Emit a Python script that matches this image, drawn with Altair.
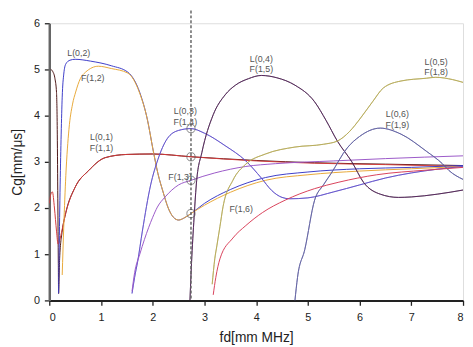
import altair as alt
import pandas as pd

# ---------------- data ----------------
L01_fd = [0.03, 0.07, 0.11, 0.14, 0.155, 0.165, 0.175, 0.18, 0.2, 0.25, 0.32, 0.5, 0.76, 1.08, 1.5, 2.0, 2.74, 4.0, 5.13, 6.5, 8.0]
L01_cg = [5.0, 4.95, 4.8, 4.5, 3.6, 2.2, 0.8, 0.15, 0.9, 1.5, 1.9, 2.45, 2.81, 3.09, 3.16, 3.17, 3.11, 3.03, 2.98, 2.95, 2.92]

F11_fd = [0.0, 0.03, 0.06, 0.1, 0.14, 0.17, 0.2, 0.25, 0.32, 0.5, 0.76, 1.08, 1.5, 2.0, 2.74, 4.0, 5.13, 6.5, 8.0]
F11_cg = [2.1, 2.3, 2.35, 2.0, 1.5, 1.22, 1.3, 1.54, 1.9, 2.45, 2.81, 3.09, 3.16, 3.17, 3.11, 3.02, 2.97, 2.94, 2.9]

L02_fd = [0.18, 0.19, 0.21, 0.23, 0.25, 0.28, 0.32, 0.4, 0.5, 0.8, 1.2, 1.52, 1.75, 1.9, 2.0, 2.1, 2.2, 2.3, 2.4, 2.5, 2.6, 2.74, 3.0, 3.5, 4.18, 5.0, 6.0, 7.0, 8.0]
L02_cg = [0.15, 1.0, 2.5, 3.6, 4.4, 4.9, 5.12, 5.2, 5.22, 5.18, 5.08, 4.94, 4.5, 3.9, 3.3, 2.75, 2.35, 2.0, 1.8, 1.74, 1.78, 1.88, 2.1, 2.4, 2.66, 2.78, 2.85, 2.88, 2.92]

F12_fd = [0.25, 0.28, 0.32, 0.38, 0.45, 0.51, 0.6, 0.7, 0.95, 1.2, 1.52, 1.75, 1.9, 2.0, 2.1, 2.2, 2.3, 2.4, 2.5, 2.6, 2.74, 3.0, 3.5, 4.18, 5.0, 6.0, 7.0, 8.0]
F12_cg = [0.55, 1.6, 2.7, 3.7, 4.25, 4.51, 4.8, 4.94, 5.07, 5.02, 4.92, 4.48, 3.9, 3.3, 2.75, 2.35, 2.0, 1.8, 1.74, 1.78, 1.88, 2.06, 2.34, 2.6, 2.72, 2.8, 2.85, 2.9]

F13_fd = [1.6, 1.65, 1.75, 1.84, 2.0, 2.09, 2.24, 2.5, 2.74, 3.2, 3.8, 4.37, 5.5, 6.5, 8.0]
F13_cg = [0.2, 0.6, 1.0, 1.32, 1.8, 2.02, 2.24, 2.5, 2.6, 2.76, 2.9, 2.96, 3.02, 3.07, 3.13]

L03_fd = [1.6, 1.65, 1.71, 1.8, 1.96, 2.1, 2.28, 2.5, 2.74, 3.0, 3.4, 3.8, 4.1, 4.3, 4.5, 4.65, 5.0, 5.5, 6.0, 6.5, 7.0, 7.5, 8.0]
L03_cg = [0.15, 0.5, 0.85, 1.5, 2.5, 3.05, 3.5, 3.68, 3.72, 3.62, 3.35, 3.02, 2.65, 2.38, 2.23, 2.2, 2.22, 2.35, 2.5, 2.65, 2.76, 2.84, 2.9]

L04_fd = [2.72, 2.75, 2.8, 2.85, 2.95, 3.17, 3.4, 3.6, 3.85, 4.1, 4.4, 4.75, 5.13, 5.35, 5.57, 5.85, 6.08, 6.4, 6.75, 7.0, 7.5, 8.0]
L04_cg = [0.0, 0.8, 1.8, 2.6, 3.2, 4.02, 4.45, 4.66, 4.8, 4.87, 4.82, 4.66, 4.3, 3.9, 3.45, 3.0, 2.55, 2.3, 2.23, 2.24, 2.3, 2.39]

L05_fd = [3.15, 3.2, 3.24, 3.3, 3.36, 3.55, 3.8, 4.18, 4.75, 5.3, 5.57, 5.8, 6.02, 6.25, 6.46, 6.8, 7.29, 7.47, 7.8, 8.0]
L05_cg = [0.35, 0.9, 1.18, 1.6, 2.03, 2.6, 2.95, 3.17, 3.32, 3.38, 3.45, 3.65, 3.95, 4.3, 4.6, 4.75, 4.81, 4.83, 4.78, 4.72]

L06_fd = [4.75, 4.8, 4.94, 5.13, 5.3, 5.45, 5.76, 6.0, 6.4, 6.8, 7.29, 7.6, 7.73, 8.0]
L06_cg = [0.0, 0.5, 1.1, 2.17, 2.5, 2.75, 3.3, 3.55, 3.73, 3.6, 3.23, 2.96, 2.81, 2.62]

F16_fd = [3.17, 3.22, 3.3, 3.55, 3.8, 4.12, 4.56, 5.13, 5.6, 6.33, 7.28, 8.0]
F16_cg = [0.12, 0.5, 0.9, 1.35, 1.62, 1.9, 2.17, 2.42, 2.56, 2.72, 2.82, 2.88]

# series: name, fd list, cg list, colour
series = [
    ("L(0,1)", L01_fd, L01_cg, "#4a1414"),
    ("F(1,1)", F11_fd, F11_cg, "#d23a3a"),
    ("L(0,2)", L02_fd, L02_cg, "#3c3cc8"),
    ("F(1,2)", F12_fd, F12_cg, "#e8a838"),
    ("L(0,3)", L03_fd, L03_cg, "#4a5ad4"),
    ("F(1,4)", L03_fd, L03_cg, "#8a4cc0"),
    ("F(1,3)", F13_fd, F13_cg, "#9a58c8"),
    ("L(0,4)", L04_fd, L04_cg, "#202020"),
    ("F(1,5)", L04_fd, L04_cg, "#9a30a8"),
    ("L(0,5)", L05_fd, L05_cg, "#a8a040"),
    ("F(1,8)", L05_fd, L05_cg, "#c8b878"),
    ("L(0,6)", L06_fd, L06_cg, "#404090"),
    ("F(1,9)", L06_fd, L06_cg, "#8888b8"),
    ("F(1,6)", F16_fd, F16_cg, "#d8405a"),
]
series_opacity = {"F(1,4)": 0.45, "F(1,5)": 0.45, "F(1,8)": 0.5, "F(1,9)": 0.5}

label_text = ["L(0,2)", "F(1,2)", "L(0,1)", "F(1,1)", "L(0,3)", "F(1,4)", "F(1,3)",
              "L(0,4)", "F(1,5)", "L(0,5)", "F(1,8)", "L(0,6)", "F(1,9)", "F(1,6)"]
label_fd = [0.57, 0.84, 1.01, 1.01, 2.63, 2.63, 2.53, 4.1, 4.1, 7.48, 7.48, 6.73, 6.73, 3.71]
label_cg = [5.36, 4.81, 3.54, 3.30, 4.11, 3.86, 2.66, 5.23, 5.00, 5.17, 4.94, 4.03, 3.80, 1.98]

marker_fd = [2.74, 2.74, 2.74, 2.74]
marker_cg = [3.72, 3.11, 2.60, 1.88]
cut_fd = [2.74]

# ---------------- tables ----------------
rows = []
for i, (name, fds, cgs, col) in enumerate(series):
    for x, y in zip(fds, cgs):
        rows.append({"mode": name, "fd": x, "cg": y, "order": i,
                     "op": series_opacity.get(name, 1.0)})
lines_df = pd.DataFrame(rows)
names = [s[0] for s in series]
colors = [s[3] for s in series]

labels_df = pd.DataFrame({"text": label_text, "fd": label_fd, "cg": label_cg})
markers_df = pd.DataFrame({"fd": marker_fd, "cg": marker_cg})
cut_df = pd.DataFrame({"fd": cut_fd})

ticks = [i * 0.5 for i in range(17)]
yticks = [i * 0.5 for i in range(13)]
minor_size = {"condition": {"test": "datum.value % 1 !== 0", "value": 3}, "value": 5}

xscale = alt.Scale(domain=[0, 8], nice=False, zero=False)
yscale = alt.Scale(domain=[0, 6], nice=False, zero=False)

xaxis = alt.Axis(title="fd[mm MHz]", values=ticks,
                 labelExpr="datum.value % 1 === 0 ? datum.label : ''",
                 tickSize=minor_size, grid=False, domainColor="#222", domainWidth=2,
                 tickColor="#222", tickWidth=1.3, labelPadding=6, titlePadding=9,
                 labelFontSize=11, titleFontSize=14, labelColor="#222", titleColor="#222",
                 labelFont="Liberation Sans", titleFont="Liberation Sans",
                 titleFontWeight="normal")
yaxis = alt.Axis(title="Cg[mm/μs]", values=yticks,
                 labelExpr="datum.value % 1 === 0 ? datum.label : ''",
                 tickSize=minor_size, grid=False, domainColor="#666", domainWidth=2.5,
                 tickColor="#222", tickWidth=1.3, labelPadding=5, titlePadding=9,
                 labelFontSize=11, titleFontSize=14, labelColor="#222", titleColor="#222",
                 labelFont="Liberation Sans", titleFont="Liberation Sans",
                 titleFontWeight="normal")

base_x = alt.X("fd:Q", scale=xscale, axis=xaxis)
base_y = alt.Y("cg:Q", scale=yscale, axis=yaxis)

lines = alt.Chart(lines_df).mark_line(strokeWidth=1, clip=True, interpolate="monotone").encode(
    x=base_x,
    y=base_y,
    color=alt.Color("mode:N", scale=alt.Scale(domain=names, range=colors), legend=None),
    detail="mode:N",
    opacity=alt.Opacity("op:Q", scale=None),
)

cut = alt.Chart(cut_df).mark_rule(color="#666", strokeDash=[3, 2], strokeWidth=1.5).encode(
    x=alt.X("fd:Q", scale=xscale),
    y=alt.value(-13),
    y2=alt.value(282),
)

markers = alt.Chart(markers_df).mark_point(shape="circle", filled=False, size=70,
                                          color="#555", strokeWidth=1).encode(
    x=alt.X("fd:Q", scale=xscale),
    y=alt.Y("cg:Q", scale=yscale),
)

labels = alt.Chart(labels_df).mark_text(font="Liberation Sans", fontSize=9, color="#555").encode(
    x=alt.X("fd:Q", scale=xscale),
    y=alt.Y("cg:Q", scale=yscale),
    text="text:N",
)

chart = alt.layer(lines, cut, markers, labels).properties(
    width=421, height=282,
    padding={"left": 42, "top": 12.5, "right": 2, "bottom": 52},
    autosize=alt.AutoSizeParams(type="none"),
).configure_view(strokeWidth=0).configure(background="white")

chart.save("out.html", embed_options={"renderer": "svg", "actions": False})
